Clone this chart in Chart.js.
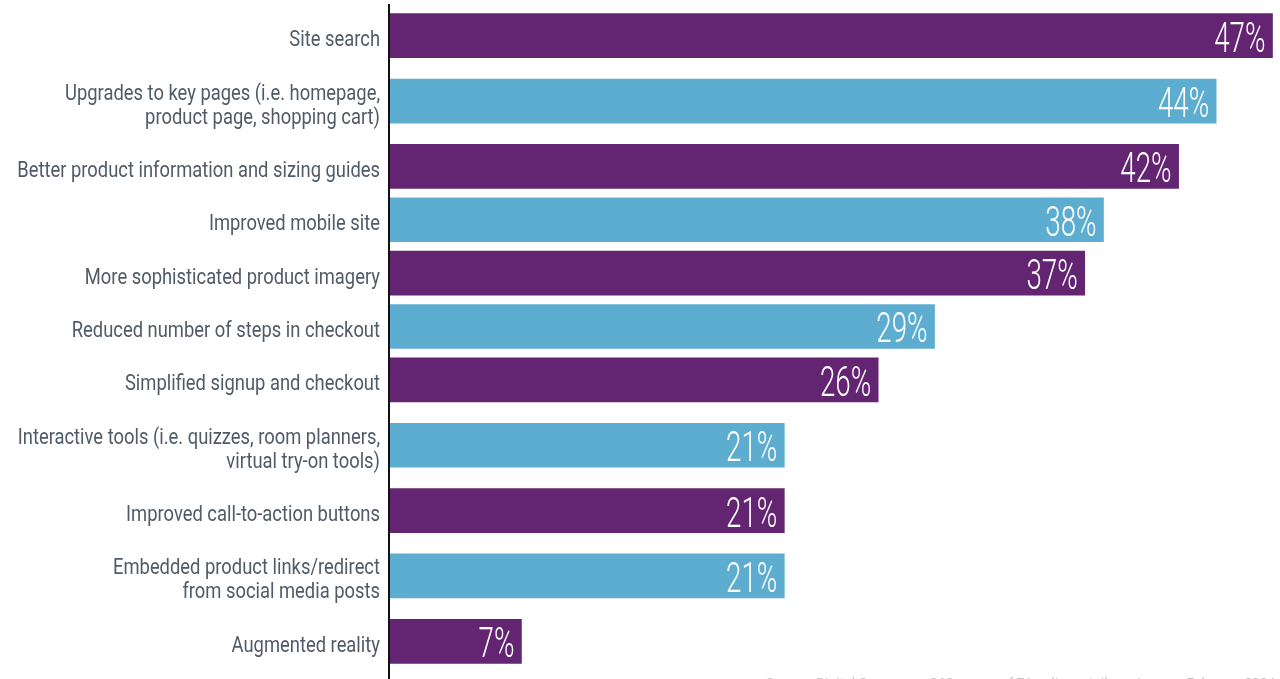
<!DOCTYPE html>
<html>
<head>
<meta charset="utf-8">
<script src="https://cdn.jsdelivr.net/npm/chart.js@4.4.1/dist/chart.umd.min.js"></script>
<style>
html, body { margin: 0; padding: 0; background: #fff; }
canvas { display: block; }
</style>
</head>
<body>
<canvas id="myChart" width="1280" height="679"></canvas>
<script>
var labels = [
    "Site search",
    ["Upgrades to key pages (i.e. homepage,", "product page, shopping cart)"],
    "Better product information and sizing guides",
    "Improved mobile site",
    "More sophisticated product imagery",
    "Reduced number of steps in checkout",
    "Simplified signup and checkout",
    ["Interactive tools (i.e. quizzes, room planners,", "virtual try-on tools)"],
    "Improved call-to-action buttons",
    ["Embedded product links/redirect", "from social media posts"],
    "Augmented reality"
];
var values = [47, 44, 42, 38, 37, 29, 26, 21, 21, 21, 7];
var barColors = ["#632471", "#5dadd0", "#632471", "#5dadd0", "#632471", "#5dadd0",
                 "#632471", "#5dadd0", "#632471", "#5dadd0", "#632471"];
var sourceNote = "Source: Digital Commerce 360 survey of 71 online retailers, January-February 2024";

// category scale where rows with two-line labels get a bit more room
class RowScale extends Chart.CategoryScale {
    getPixelForValue(value) {
        if (typeof value !== 'number') value = this.parse(value);
        if (value === null || isNaN(value)) return NaN;
        var w = this.getLabels().map(function(l) {
            return Array.isArray(l) ? 1 + 0.45 * (l.length - 1) : 1;
        });
        var total = w.reduce(function(a, b) { return a + b; }, 0);
        var acc = 0;
        for (var i = 0; i < value; i++) acc += w[i];
        acc += w[value] / 2;
        return this.getPixelForDecimal(acc / total);
    }
}
RowScale.id = 'rows';
RowScale.defaults = Chart.CategoryScale.defaults;
Chart.register(RowScale);

// condensed text: squeeze horizontally around the anchor point
function narrowText(ctx, text, x, y, squeeze) {
    ctx.save();
    ctx.translate(x, y);
    ctx.scale(squeeze, 1);
    ctx.fillText(text, 0, 0);
    ctx.restore();
}

var decorations = {
    id: 'decorations',
    afterDatasetsDraw: function(chart) {
        var ctx = chart.ctx;
        var yScale = chart.scales.y;
        var meta = chart.getDatasetMeta(0);
        ctx.save();
        ctx.textAlign = 'right';
        ctx.textBaseline = 'alphabetic';

        // category labels
        ctx.fillStyle = '#4f5b66';
        ctx.font = '22px Roboto';
        labels.forEach(function(l, i) {
            var lines = Array.isArray(l) ? l : [l];
            var yc = yScale.getPixelForTick(i);
            lines.forEach(function(line, k) {
                var y = yc + 10.5 + (k - (lines.length - 1) / 2) * 24;
                narrowText(ctx, line, yScale.right - 10, y, 0.835);
            });
        });

        // value labels
        ctx.fillStyle = '#ffffff';
        ctx.font = '300 42px Roboto';
        meta.data.forEach(function(bar, i) {
            narrowText(ctx, values[i] + '%', bar.x - 7, bar.y + 16, 0.66);
        });

        // axis line
        ctx.fillStyle = '#111111';
        ctx.fillRect(chart.chartArea.left - 2, 4, 2, chart.height - 4);

        // source line, mostly cut off at the bottom
        ctx.fillStyle = '#c4c4c4';
        ctx.font = '13px Roboto';
        ctx.textAlign = 'left';
        narrowText(ctx, sourceNote, 766, 687, 1.07);
        ctx.restore();
    }
};

var ctx = document.getElementById("myChart").getContext('2d');

var myChart = new Chart(ctx, {
    type: 'bar',
    data: {
        labels: labels,
        datasets: [{
            data: values,
            backgroundColor: barColors,
            borderWidth: 0,
            barThickness: 44
        }]
    },
    options: {
        indexAxis: 'y',
        responsive: false,
        animation: false,
        events: [],
        layout: { padding: { top: 9, bottom: 11, left: 0, right: 0 } },
        plugins: {
            legend: { display: false },
            tooltip: { enabled: false }
        },
        scales: {
            x: { display: false, min: 0, max: 47.4 },
            y: {
                type: 'rows',
                grid: { display: false, drawTicks: false },
                border: { display: false },
                ticks: { display: false },
                afterFit: function(scale) { scale.width = 390; }
            }
        }
    },
    plugins: [decorations]
});
</script>
</body>
</html>
